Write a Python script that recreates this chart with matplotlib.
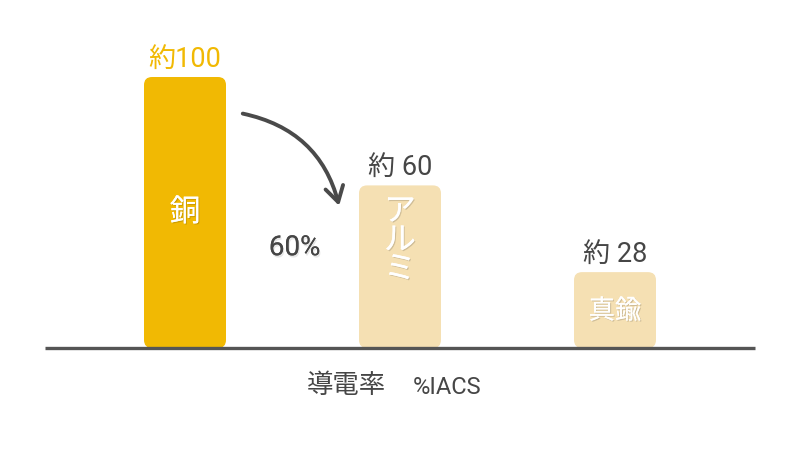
import matplotlib
matplotlib.use("Agg")
import matplotlib.pyplot as plt
import matplotlib.patches as mpatches
import matplotlib.patheffects as pe

plt.rcParams["font.family"] = ["Roboto", "Noto Sans CJK JP", "DejaVu Sans"]

# data
metals = ["銅", "アルミ", "真鍮"]
conductivity = [100, 60, 28]
value_labels = ["約100", "約 60", "約 28"]
ratio_label = "60%"

GOLD = "#F1B903"
PALE = "#F5E0B3"
DARK = "#464646"

bar_colors = [GOLD, PALE, PALE]
label_colors = [GOLD, DARK, DARK]

W, H, DPI = 800, 450, 100
base_px = 102                 # baseline height from bottom, px
px_per_unit_y = 2.71
px_per_unit_x = 215.0
x0_px = 185.0

fig = plt.figure(figsize=(W / DPI, H / DPI), dpi=DPI)
ax = fig.add_axes([0, base_px / H, 1, 1 - base_px / H])
ax.set_xlim(-x0_px / px_per_unit_x, (W - x0_px) / px_per_unit_x)
ax.set_ylim(0, (H - base_px) / px_per_unit_y)
ax.axis("off")

bar_w = 82 / px_per_unit_x
r = 8 / px_per_unit_x
aspect = px_per_unit_x / px_per_unit_y
shadow = [pe.withSimplePatchShadow(offset=(0.8, -0.8), shadow_rgbFace="#000000", alpha=0.15),
          pe.Normal()]

for i, (name, v) in enumerate(zip(metals, conductivity)):
    ax.add_patch(mpatches.FancyBboxPatch(
        (i - bar_w / 2, 0), bar_w, v,
        boxstyle=f"round,pad=0,rounding_size={r}", mutation_aspect=aspect,
        facecolor=bar_colors[i], edgecolor="none", clip_on=False))
    ax.text(i, v + 1.5, value_labels[i], ha="center", va="bottom",
            fontsize=19.5, color=label_colors[i])

# labels inside bars
ax.text(0, 50, metals[0], ha="center", va="center", fontsize=22,
        color="white", path_effects=shadow)
ax.text(1, 39.5, "\n".join(metals[1]), ha="center", va="center", fontsize=23,
        color="white", linespacing=1.0, path_effects=shadow)
ax.text(2, conductivity[2] / 2 - 0.5, metals[2], ha="center", va="center",
        fontsize=19, color="white", path_effects=shadow)

# curved arrow copper -> aluminium
ax.add_patch(mpatches.FancyArrowPatch(
    (0.256, 86.7), (0.72, 51.5),
    connectionstyle="arc3,rad=-0.32",
    arrowstyle="->,head_length=11,head_width=6.5",
    color="#4a4a4a", lw=2.8, clip_on=False))
ax.text(0.51, 37.0, ratio_label, ha="center", va="center", fontsize=20,
        color=DARK, path_effects=[pe.withSimplePatchShadow(offset=(0.8, -1.5), alpha=0.1), pe.Normal()])

# baseline
ax.plot([(45 - x0_px) / px_per_unit_x, (755 - x0_px) / px_per_unit_x], [0, 0],
        color="#555555", lw=2.4, clip_on=False, solid_capstyle="butt")

# axis title
fig.text(346 / W, 1 - 386 / H, "導電率", ha="center", va="center",
         fontsize=19, color=DARK)
fig.text(447 / W, 1 - 387 / H, "%IACS", ha="center", va="center",
         fontsize=17, color=DARK)

fig.savefig("out.png", dpi=DPI)
